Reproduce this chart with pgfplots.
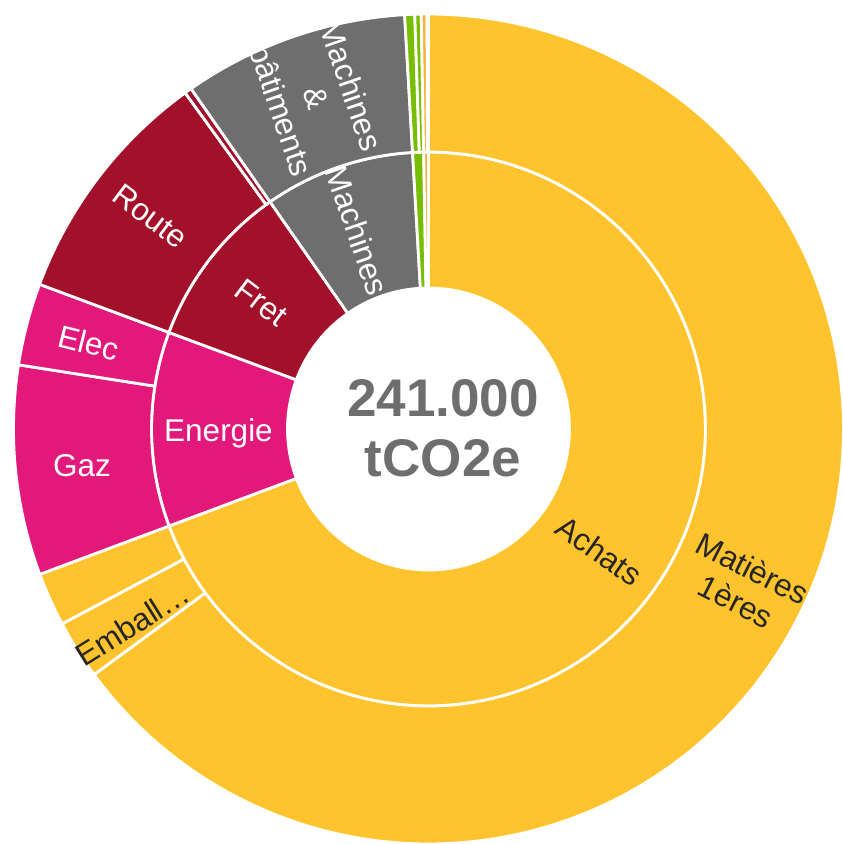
\documentclass[border=0pt]{standalone}
\usepackage{pgfplots}
\pgfplotsset{compat=1.18}
\usepackage{fontspec}
\setmainfont{Liberation Sans}

\definecolor{achat}{HTML}{FFC42D}
\definecolor{orangec}{HTML}{F7B235}
\definecolor{energie}{HTML}{E2197A}
\definecolor{fret}{HTML}{A31029}
\definecolor{machine}{HTML}{6E6E6E}
\definecolor{vert}{HTML}{78BE00}
\definecolor{txt}{HTML}{262626}

% emissions in kt CO2e, clockwise from 12 o'clock
\newcommand\total{241}
\newcommand\cum{0}
\newcommand\sectdraw[5]{%
  \addplot[fill=#5, draw=white, line width=2.8pt, line join=round,
    domain=0:2, samples=241, variable=\t]
  ({ifthenelse(\t<1.005,#4,#3)*cos(ifthenelse(\t<1.005,(#1)+((#2)-(#1))*\t,(#2)+((#1)-(#2))*max(0,\t-1.02)/0.98))},
   {ifthenelse(\t<1.005,#4,#3)*sin(ifthenelse(\t<1.005,(#1)+((#2)-(#1))*\t,(#2)+((#1)-(#2))*max(0,\t-1.02)/0.98))}) -- cycle;}
\newcommand\sect[4]{% value, inner radius, outer radius, colour
  \pgfmathsetmacro\aA{90-\cum/\total*360}%
  \pgfmathsetmacro\aB{90-(\cum+#1)/\total*360}%
  \edef\doit{\noexpand\sectdraw{\aA}{\aB}{#2}{#3}{#4}}\doit
  \pgfmathsetmacro\newcum{\cum+#1}\global\let\cum\newcum}

\begin{document}
\begin{tikzpicture}
\begin{axis}[at={(0,0)}, anchor=south west,
    width=843pt, height=844pt, scale only axis,
    xmin=-428.5, xmax=414.5, ymin=-415, ymax=429,
    hide axis]

% inner ring
\gdef\cum{0}
\sect{167.027}{141}{277}{achat}   % Achats
\sect{27.381}{141}{277}{energie}  % Energie
\sect{23.229}{141}{277}{fret}     % Fret
\sect{21.154}{141}{277}{machine}  % Machines
\sect{1.539}{141}{277}{vert}
\sect{0.670}{141}{277}{orangec}

% outer ring
\gdef\cum{0}
\sect{156.450}{277}{415}{achat}   % Matieres 1eres
\sect{5.556}{277}{415}{achat}     % Emballages
\sect{5.021}{277}{415}{achat}
\sect{19.682}{277}{415}{energie}  % Gaz
\sect{7.699}{277}{415}{energie}   % Elec
\sect{22.560}{277}{415}{fret}     % Route
\sect{0.669}{277}{415}{fret}
\sect{21.154}{277}{415}{machine}  % Machines & batiments
\sect{0.937}{277}{415}{vert}
\sect{0.602}{277}{415}{vert}
\sect{0.536}{277}{415}{orangec}
\sect{0.134}{277}{415}{orangec}

\node[machine, font=\fontsize{53}{60}\selectfont\bfseries, anchor=base] at (axis cs:14.5,12) {241.000};
\node[machine, font=\fontsize{53}{60}\selectfont\bfseries, anchor=base] at (axis cs:14.5,-48) {tCO2e};

\tikzset{lab/.style={font=\fontsize{31.5}{37}\selectfont, align=center, inner sep=0pt}}
\node[lab, white, anchor=base] at (axis cs:-210,-13) {Energie};
\node[lab, white, anchor=base] at (axis cs:-346.5,-48) {Gaz};
\node[lab, white, rotate=-14] at (axis cs:-339.5,86.5) {Elec};
\node[lab, white, rotate=-37] at (axis cs:-278,212.5) {Route};
\node[lab, white, rotate=-37] at (axis cs:-167,126.5) {Fret};
\node[lab, white, rotate=-71] at (axis cs:-71,198.5) {Machines};
\node[lab, white, rotate=-71] at (axis cs:-112,331) {Machines\\\&\\bâtiments};
\node[lab, txt, rotate=-35] at (axis cs:170.5,-122) {Achats};
\node[lab, txt, rotate=-27] at (axis cs:316,-156) {Matières\\1ères};
\node[lab, txt, rotate=32] at (axis cs:-296,-195) {Emball…};
\end{axis}
\pgfresetboundingbox
\path[use as bounding box] (0,0) rectangle (843pt,844pt);
\end{tikzpicture}
\end{document}
